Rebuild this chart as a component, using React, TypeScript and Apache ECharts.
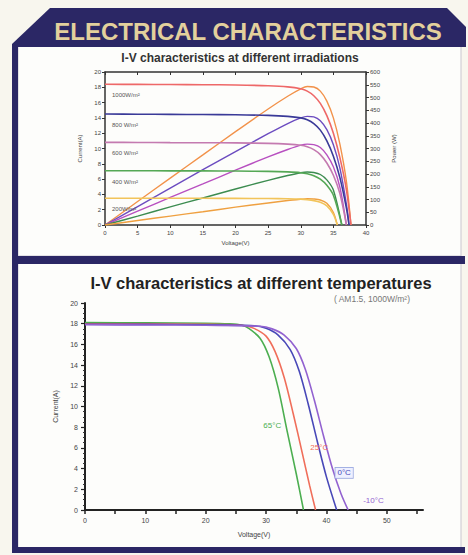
import React, { useEffect, useRef } from 'react';
import * as echarts from 'echarts';

// ---------- Top chart: I-V / P-V at different irradiations ----------
const irrNames = ['1000W/m²', '800 W/m²', '600 W/m²', '400 W/m²', '200W/m²'];
const ivColors = ['#ee6868', '#3a3a98', '#c47ab0', '#55a855', '#f2c45a'];
const pvColors = ['#f2924a', '#6c4cc0', '#b850c0', '#3c8c50', '#efa040'];

const v1000 = [0, 5, 10, 15, 20, 25, 28, 30, 31, 32, 33, 34, 35, 36, 37, 37.7];
const i1000 = [18.4, 18.38, 18.36, 18.34, 18.3, 18.2, 18.05, 17.8, 17.5, 16.9, 15.9, 14.3, 12.0, 8.8, 4.6, 0];
const p1000 = [0, 92, 184, 275, 366, 455, 505, 534, 543, 541, 525, 486, 420, 317, 170, 0];

const v800 = [0, 5, 10, 15, 20, 25, 28, 30, 31, 32, 33, 34, 35, 36, 37, 37.4];
const i800 = [14.5, 14.48, 14.46, 14.44, 14.41, 14.33, 14.2, 14.0, 13.75, 13.25, 12.4, 11.0, 9.0, 6.2, 2.2, 0];
const p800 = [0, 72, 145, 217, 288, 358, 398, 420, 426, 424, 409, 374, 315, 223, 81, 0];

const v600 = [0, 5, 10, 15, 20, 25, 28, 30, 31, 32, 33, 34, 35, 36, 37];
const i600 = [10.8, 10.79, 10.77, 10.75, 10.73, 10.67, 10.57, 10.42, 10.22, 9.85, 9.2, 8.1, 6.5, 4.1, 0];
const p600 = [0, 54, 108, 161, 215, 267, 296, 313, 317, 315, 304, 275, 228, 148, 0];

const v400 = [0, 5, 10, 15, 20, 25, 28, 30, 31, 32, 33, 34, 35, 36.3];
const i400 = [7.1, 7.09, 7.08, 7.07, 7.05, 7.01, 6.94, 6.84, 6.7, 6.45, 6.0, 5.2, 3.9, 0];
const p400 = [0, 35, 71, 106, 141, 175, 194, 205, 208, 206, 198, 177, 137, 0];

const v200 = [0, 5, 10, 15, 20, 25, 28, 30, 31, 32, 33, 34, 35, 35.6];
const i200 = [3.5, 3.5, 3.49, 3.49, 3.48, 3.46, 3.43, 3.38, 3.31, 3.19, 2.96, 2.5, 1.4, 0];
const p200 = [0, 17.5, 35, 52, 70, 86.5, 96, 101, 103, 102, 98, 85, 49, 0];

const irrV = [v1000, v800, v600, v400, v200];
const irrI = [i1000, i800, i600, i400, i200];
const irrP = [p1000, p800, p600, p400, p200];

const topVoltTicks = [0, 40, 5];
const topCurrTicks = [0, 20, 2];
const topPowTicks = [0, 600, 50];

// ---------- Bottom chart: I-V at different temperatures ----------
const tempNames = ['65°C', '25°C', '0°C', '-10°C'];
const tempColors = ['#4cae50', '#f06e5a', '#4848b8', '#9262d0'];

const vT65 = [0, 10, 20, 24, 26, 27, 29, 30.5, 32, 33.5, 35, 36.2];
const iT65 = [18.1, 18.08, 18.05, 17.98, 17.85, 17.6, 16.6, 14.8, 11.8, 7.6, 3.5, 0];

const vT25 = [0, 10, 20, 26, 28, 30, 31.5, 33, 34.5, 36, 37.2, 38.2];
const iT25 = [18.0, 17.98, 17.95, 17.85, 17.55, 16.8, 15.3, 12.8, 9.3, 5.5, 2.4, 0];

const vT0 = [0, 10, 20, 28, 30, 32, 34, 35.5, 37, 38.5, 40, 41.7];
const iT0 = [17.95, 17.93, 17.9, 17.8, 17.55, 16.9, 15.5, 13.4, 10.2, 6.6, 3.2, 0];

const vTm10 = [0, 10, 20, 29, 31, 33, 35, 36.5, 38, 39.5, 41, 42.4, 43.6];
const iTm10 = [17.9, 17.88, 17.85, 17.75, 17.5, 16.9, 15.6, 13.6, 10.6, 7.2, 4.0, 1.6, 0];

const tempV = [vT65, vT25, vT0, vTm10];
const tempI = [iT65, iT25, iT0, iTm10];

const botVoltTicks = [0, 56, 5];
const botCurrTicks = [0, 20, 2];

const FONT = '"Liberation Sans", Arial, sans-serif';
const NAVY = '#2b2765';

export default function App() {
  const ref = useRef<HTMLDivElement>(null);

  useEffect(() => {
    if (!ref.current) return;
    const chart = echarts.init(ref.current, undefined, { renderer: 'svg' });

    const series: any[] = [];
    irrNames.forEach((name, k) => {
      const iv = irrV[k].map((v, j) => [v, irrI[k][j]]) as any[];
      iv[0] = {
        value: iv[0],
        label: {
          show: true,
          formatter: name,
          position: 'bottom',
          align: 'left',
          offset: [7, 3],
          fontSize: 6,
          color: '#555',
          fontFamily: FONT,
        },
      };
      series.push({
        type: 'line',
        name: name + ' I',
        xAxisIndex: 0,
        yAxisIndex: 0,
        data: iv,
        smooth: 0.3,
        showSymbol: true,
        showAllSymbol: true,
        symbol: 'circle',
        symbolSize: 0,
        lineStyle: { color: ivColors[k], width: 1.6 },
        itemStyle: { color: ivColors[k] },
        z: 3,
      });
      series.push({
        type: 'line',
        name: name + ' P',
        xAxisIndex: 0,
        yAxisIndex: 1,
        data: irrV[k].map((v, j) => [v, irrP[k][j]]),
        smooth: 0.3,
        showSymbol: false,
        symbol: 'none',
        lineStyle: { color: pvColors[k], width: 1.4 },
        z: 2,
      });
    });

    const labelIdx = [9, 9, 10, 12];
    const labelPos: any[] = [
      { position: 'left', offset: [-1, -6] },
      { position: 'right', offset: [3, -6] },
      { position: 'right', offset: [4, -4] },
      { position: 'right', offset: [10, -10] },
    ];
    tempNames.forEach((name, k) => {
      const d = tempV[k].map((v, j) => [v, tempI[k][j]]) as any[];
      const li = labelIdx[k];
      d[li] = {
        value: d[li],
        label: {
          show: true,
          formatter: name,
          fontSize: 8,
          color: tempColors[k],
          fontFamily: FONT,
          ...labelPos[k],
          ...(k === 2
            ? { borderColor: '#9aa8e0', borderWidth: 0.8, padding: [1, 2], backgroundColor: '#eef0ff' }
            : {}),
        },
      };
      series.push({
        type: 'line',
        name,
        xAxisIndex: 2,
        yAxisIndex: 2,
        data: d,
        smooth: 0.3,
        showSymbol: true,
        showAllSymbol: true,
        symbol: 'circle',
        symbolSize: 0,
        lineStyle: { color: tempColors[k], width: 1.6 },
        itemStyle: { color: tempColors[k] },
      });
    });

    const axisText = { fontSize: 6, color: '#444', fontFamily: FONT };
    const axisLineTop = { show: true, onZero: false, lineStyle: { color: '#333', width: 1.5 } };

    const option: any = {
      animation: false,
      backgroundColor: '#f8f6ee',
      textStyle: { fontFamily: FONT },
      grid: [
        { left: 105, top: 72, width: 261, height: 153, show: false },
        { left: 85, top: 303, width: 338, height: 207, show: false },
      ],
      xAxis: [
        {
          gridIndex: 0,
          type: 'value',
          min: topVoltTicks[0],
          max: topVoltTicks[1],
          interval: topVoltTicks[2],
          axisLine: axisLineTop,
          axisTick: { show: true, length: 3, lineStyle: { color: '#333' } },
          axisLabel: { ...axisText, margin: 5 },
          splitLine: { show: false },
          name: 'Voltage(V)',
          nameLocation: 'middle',
          nameGap: 15,
          nameTextStyle: axisText,
        },
        {
          gridIndex: 0,
          type: 'value',
          position: 'top',
          min: topVoltTicks[0],
          max: topVoltTicks[1],
          interval: topVoltTicks[2],
          axisLine: axisLineTop,
          axisTick: { show: true, inside: true, length: 3, lineStyle: { color: '#333' } },
          axisLabel: { show: false },
          splitLine: { show: false },
        },
        {
          gridIndex: 1,
          type: 'value',
          min: botVoltTicks[0],
          max: botVoltTicks[1],
          interval: botVoltTicks[2],
          axisLine: { show: true, onZero: false, lineStyle: { color: '#222', width: 2 } },
          axisTick: { show: true, length: 4, lineStyle: { color: '#222', width: 1.5 } },
          axisLabel: {
            fontSize: 7,
            color: '#444',
            fontFamily: FONT,
            margin: 7,
            showMaxLabel: false,
            formatter: (v: number) => (v % 10 === 0 ? String(v) : ''),
          },
          splitLine: { show: false },
          name: 'Voltage(V)',
          nameLocation: 'middle',
          nameGap: 21,
          nameTextStyle: { fontSize: 7, color: '#444', fontFamily: FONT },
        },
      ],
      yAxis: [
        {
          gridIndex: 0,
          type: 'value',
          min: topCurrTicks[0],
          max: topCurrTicks[1],
          interval: topCurrTicks[2],
          axisLine: axisLineTop,
          axisTick: { show: true, length: 3, lineStyle: { color: '#333' } },
          axisLabel: { ...axisText, margin: 4 },
          splitLine: { show: false },
          name: 'Current(A)',
          nameLocation: 'middle',
          nameRotate: 90,
          nameGap: 15,
          nameTextStyle: axisText,
        },
        {
          gridIndex: 0,
          type: 'value',
          position: 'right',
          min: topPowTicks[0],
          max: topPowTicks[1],
          interval: topPowTicks[2],
          axisLine: axisLineTop,
          axisTick: { show: true, length: 3, lineStyle: { color: '#333' } },
          axisLabel: { ...axisText, margin: 4 },
          splitLine: { show: false },
          name: 'Power (W)',
          nameLocation: 'middle',
          nameRotate: 90,
          nameGap: 24,
          nameTextStyle: axisText,
        },
        {
          gridIndex: 1,
          type: 'value',
          min: botCurrTicks[0],
          max: botCurrTicks[1],
          interval: botCurrTicks[2],
          axisLine: { show: true, onZero: false, lineStyle: { color: '#222', width: 2 } },
          axisTick: { show: true, length: 4, lineStyle: { color: '#222', width: 1.2 } },
          minorTick: { show: true, splitNumber: 4, length: 2, lineStyle: { color: '#333' } },
          axisLabel: { fontSize: 7, color: '#444', fontFamily: FONT, margin: 7 },
          splitLine: { show: false },
          minorSplitLine: { show: false },
          name: 'Current(A)',
          nameLocation: 'middle',
          nameRotate: 90,
          nameGap: 26,
          nameTextStyle: { fontSize: 7, color: '#444', fontFamily: FONT },
        },
      ],
      graphic: [
        // panels
        { type: 'rect', z: -10, shape: { x: 18, y: 46, width: 443, height: 210 }, style: { fill: '#fdfdfb', stroke: '#c9c6cf', lineWidth: 1 } },
        { type: 'rect', z: -10, shape: { x: 18, y: 263, width: 443, height: 285 }, style: { fill: '#fdfdfb', stroke: '#c9c6cf', lineWidth: 1 } },
        // banner
        {
          type: 'polygon',
          z: -5,
          shape: { points: [[50, 8], [447, 8], [466, 27], [466, 47], [12, 47], [12, 44]] },
          style: { fill: NAVY },
        },
        // left bar
        { type: 'rect', z: -5, shape: { x: 12, y: 44, width: 6, height: 509 }, style: { fill: NAVY } },
        // separator
        { type: 'rect', z: -5, shape: { x: 12, y: 256, width: 453, height: 8 }, style: { fill: NAVY } },
        // bottom border
        { type: 'rect', z: -5, shape: { x: 12, y: 547, width: 453, height: 6 }, style: { fill: NAVY } },
        {
          type: 'text',
          x: 248,
          y: 31,
          style: {
            text: 'ELECTRICAL CHARACTERISTICS',
            fill: '#e3d09c',
            font: `bold 24px ${FONT}`,
            textAlign: 'center',
            textVerticalAlign: 'middle',
          },
        },
        {
          type: 'text',
          x: 240,
          y: 58,
          style: {
            text: 'I-V characteristics at different irradiations',
            fill: '#333',
            font: `bold 12px ${FONT}`,
            textAlign: 'center',
            textVerticalAlign: 'middle',
          },
        },
        {
          type: 'text',
          x: 261,
          y: 283,
          style: {
            text: 'I-V characteristics at different temperatures',
            fill: '#222',
            font: `bold 16.5px ${FONT}`,
            textAlign: 'center',
            textVerticalAlign: 'middle',
          },
        },
        {
          type: 'text',
          x: 372,
          y: 299,
          style: {
            text: '( AM1.5, 1000W/m²)',
            fill: '#777',
            font: `8.5px ${FONT}`,
            textAlign: 'center',
            textVerticalAlign: 'middle',
          },
        },
      ],
      series,
    };

    chart.setOption(option);
    return () => chart.dispose();
  }, []);

  return (
    <div
      ref={ref}
      style={{ position: 'fixed', left: 0, top: 0, width: 468, height: 555 }}
    />
  );
}
